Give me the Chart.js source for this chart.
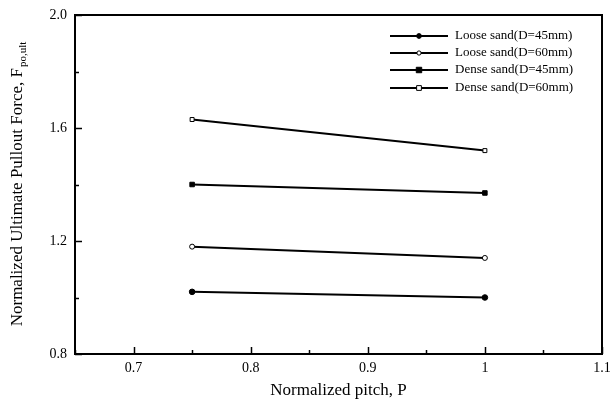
<!DOCTYPE html>
<html>
<head>
<meta charset="utf-8">
<script src="https://cdn.jsdelivr.net/npm/chart.js@4"></script>
<style>
  html, body { margin: 0; padding: 0; background: #fff; }
  #wrap { width: 611px; height: 401px; }
</style>
</head>
<body>
<div id="wrap"><canvas id="pulloutChart" width="611" height="401"></canvas></div>
<script>
// pitch values (x) and normalized pullout force for each case
const pitch = [0.75, 1.0];
const looseD45 = [1.02, 1.00];
const looseD60 = [1.18, 1.14];
const denseD45 = [1.40, 1.37];
const denseD60 = [1.63, 1.52];
const seriesNames = ['Loose sand(D=45mm)', 'Loose sand(D=60mm)', 'Dense sand(D=45mm)', 'Dense sand(D=60mm)'];
const xMajor = [0.7, 0.8, 0.9, 1, 1.1];
const yMajor = [0.8, 1.2, 1.6, 2.0];

const serif = '"Liberation Serif", "Times New Roman", serif';

function pts(ys) {
    return pitch.map(function (x, i) { return { x: x, y: ys[i] }; });
}

const markers = [
    { pointStyle: 'circle', radius: 2.8, fill: '#000' },
    { pointStyle: 'circle', radius: 2.5, fill: '#fff' },
    { pointStyle: 'rect', radius: 3.2, fill: '#000' },
    { pointStyle: 'rect', radius: 2.8, fill: '#fff' }
];
const values = [looseD45, looseD60, denseD45, denseD60];

const datasets = values.map(function (v, i) {
    return {
        label: seriesNames[i],
        data: pts(v),
        borderColor: '#000',
        borderWidth: 2,
        pointStyle: markers[i].pointStyle,
        pointRadius: markers[i].radius,
        pointBackgroundColor: markers[i].fill,
        pointBorderColor: '#000',
        pointBorderWidth: 1,
        showLine: true,
        tension: 0
    };
});

function isMajor(list, v) {
    return list.some(function (m) { return Math.abs(m - v) < 1e-6; });
}

// frame, inward ticks, legend and y title with subscript
const decorations = {
    id: 'decorations',
    afterDraw: function (chart) {
        const ctx = chart.ctx;
        const a = chart.chartArea;
        const xs = chart.scales.x;
        const ys = chart.scales.y;
        ctx.save();
        ctx.strokeStyle = '#000';
        ctx.lineWidth = 2;
        ctx.strokeRect(a.left, a.top, a.right - a.left, a.bottom - a.top);

        ctx.lineWidth = 1.5;
        xs.ticks.forEach(function (t) {
            const px = Math.round(xs.getPixelForValue(t.value)) + 0.5;
            const len = isMajor(xMajor, t.value) ? 7 : 4;
            ctx.beginPath();
            ctx.moveTo(px, a.bottom);
            ctx.lineTo(px, a.bottom - len);
            ctx.stroke();
        });
        ys.ticks.forEach(function (t) {
            const py = Math.round(ys.getPixelForValue(t.value)) + 0.5;
            const len = isMajor(yMajor, t.value) ? 7 : 4;
            ctx.beginPath();
            ctx.moveTo(a.left, py);
            ctx.lineTo(a.left + len, py);
            ctx.stroke();
        });

        // legend
        ctx.font = '13px ' + serif;
        ctx.textBaseline = 'middle';
        ctx.textAlign = 'left';
        const rowY = [36, 53, 70, 88];
        chart.data.datasets.forEach(function (ds, i) {
            const y = rowY[i];
            ctx.strokeStyle = '#000';
            ctx.lineWidth = 2;
            ctx.beginPath();
            ctx.moveTo(390, y);
            ctx.lineTo(448, y);
            ctx.stroke();
            const r = ds.pointRadius * 0.85;
            ctx.fillStyle = ds.pointBackgroundColor;
            ctx.lineWidth = 1;
            ctx.beginPath();
            if (ds.pointStyle === 'circle') {
                ctx.arc(419, y, r, 0, Math.PI * 2);
            } else {
                ctx.rect(419 - r, y - r, r * 2, r * 2);
            }
            ctx.fill();
            ctx.stroke();
            ctx.fillStyle = '#000';
            ctx.fillText(ds.label, 455, y);
        });

        // y axis title
        const main = 'Normalized Ultimate Pullout Force, F';
        const sub = 'po,ult';
        ctx.translate(18, (a.top + a.bottom) / 2);
        ctx.rotate(-Math.PI / 2);
        ctx.font = '17px ' + serif;
        const w1 = ctx.measureText(main).width;
        ctx.font = '11px ' + serif;
        const w2 = ctx.measureText(sub).width;
        const start = -(w1 + w2) / 2;
        ctx.textAlign = 'left';
        ctx.textBaseline = 'middle';
        ctx.font = '17px ' + serif;
        ctx.fillText(main, start, 0);
        ctx.font = '11px ' + serif;
        ctx.fillText(sub, start + w1 + 1, 5);
        ctx.restore();
    }
};

const chart = new Chart(document.getElementById('pulloutChart'), {
    type: 'scatter',
    data: { datasets: datasets },
    options: {
        responsive: false,
        animation: false,
        layout: { padding: { top: 15, right: 9, left: 0, bottom: 0 } },
        plugins: {
            legend: { display: false },
            tooltip: { enabled: false }
        },
        scales: {
            x: {
                type: 'linear',
                min: 0.65,
                max: 1.1,
                border: { display: false },
                grid: { display: false, drawTicks: false },
                ticks: {
                    stepSize: 0.05,
                    autoSkip: false,
                    maxRotation: 0,
                    padding: 6,
                    color: '#000',
                    font: { family: serif, size: 14 },
                    callback: function (v) {
                        return isMajor(xMajor, v) ? String(Math.round(v * 10) / 10) : '';
                    }
                },
                title: {
                    display: true,
                    text: 'Normalized pitch, P',
                    color: '#000',
                    font: { family: serif, size: 17 },
                    padding: { top: 2, bottom: 0 }
                },
                afterFit: function (s) {
                    s.height = 47;
                    s.paddingLeft = 0;
                    s.paddingRight = 0;
                }
            },
            y: {
                type: 'linear',
                min: 0.8,
                max: 2.0,
                border: { display: false },
                grid: { display: false, drawTicks: false },
                ticks: {
                    stepSize: 0.2,
                    autoSkip: false,
                    padding: 8,
                    color: '#000',
                    font: { family: serif, size: 14 },
                    callback: function (v) {
                        return isMajor(yMajor, v) ? v.toFixed(1) : '';
                    }
                },
                afterFit: function (s) {
                    s.width = 75;
                    s.paddingTop = 0;
                    s.paddingBottom = 0;
                }
            }
        }
    },
    plugins: [decorations]
});
</script>
</body>
</html>
